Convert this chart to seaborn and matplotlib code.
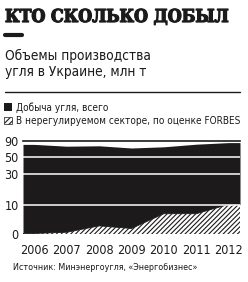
import numpy as np
import pandas as pd
import seaborn as sns
import matplotlib
matplotlib.use('Agg')
import matplotlib.pyplot as plt
import matplotlib.patheffects as pe
from matplotlib.patches import Patch
from matplotlib.lines import Line2D

# data
years = [2006, 2007, 2008, 2009, 2010, 2011, 2012]
total = [81.5, 77.0, 78.0, 72.5, 75.5, 82.0, 86.0]      # добыча угля, всего
unreg = [0.2, 0.6, 2.8, 1.9, 7.0, 7.0, 10.4]           # нерегулируемый сектор
yticks = [0, 10, 30, 50, 90]
ypix = [0, 29, 60, 77, 93]   # the chart uses a broken (piecewise) y scale

title = 'КТО СКОЛЬКО ДОБЫЛ'
subtitle = 'Объемы производства\nугля в Украине, млн т'
lab_total = 'Добыча угля, всего'
lab_unreg = 'В нерегулируемом секторе, по оценке FORBES'
source = 'Источник: Минэнергоугля, «Энергобизнес»'

sns.set_style('white')
plt.rcParams['font.family'] = ['DejaVu Sans']
plt.rcParams['font.stretch'] = 'condensed'
plt.rcParams['hatch.linewidth'] = 0.8
ink = '#1c1a1b'

def fwd(v):
    return np.interp(v, yticks, ypix)

def inv(v):
    return np.interp(v, ypix, yticks)

df = pd.DataFrame({'year': years, 'total': total, 'unreg': unreg})
# area runs a bit past the first and last year, like the original
x0, x1 = years[0] - 0.35, years[-1] + 0.35
xs = np.r_[x0, df['year'], x1]
tot = np.pad(df['total'].values, 1, mode='edge')
unr = np.pad(df['unreg'].values, 1, mode='edge')

fig = plt.figure(figsize=(2.48, 2.82), dpi=100)
ax = fig.add_axes([23/248, 1-234/282, 217/248, 93/282])
ax.set_yscale('function', functions=(fwd, inv))

ax.fill_between(xs, unr, tot, color=ink, lw=0)
ax.fill_between(xs, 0, unr, facecolor='white', edgecolor=ink, hatch='///////', lw=0)
sns.lineplot(x=xs, y=unr, ax=ax, color=ink, lw=0.6)

for t in yticks[1:-1]:
    ax.axhline(t, color='white', lw=1.1)

ax.set_xlim(x0, x1)
ax.set_ylim(0, 90)
ax.set_yticks(yticks)
ax.set_yticklabels([str(t) for t in yticks])
ax.set_xticks(years)
ax.set_xticklabels([str(y) for y in years])
ax.tick_params(length=0, labelsize=9, colors=ink)
ax.tick_params(axis='y', pad=3)
ax.tick_params(axis='x', pad=7)
ax.set_xlabel('')
ax.set_ylabel('')
for s in ['left', 'right', 'bottom']:
    ax.spines[s].set_visible(False)
ax.spines['top'].set_color(ink)
ax.spines['top'].set_linewidth(1.2)

# header
fig.text(5/248, 1-22/282, title, family='DejaVu Serif', weight='bold',
         stretch='condensed', fontsize=12.8, color=ink, va='baseline',
         path_effects=[pe.withStroke(linewidth=0.9, foreground=ink)])
fig.add_artist(Line2D([5/248, 22/248], [1-35/282]*2, color=ink, lw=3))
fig.text(5/248, 1-76/282, subtitle, fontsize=9.8, color=ink, va='baseline',
         linespacing=1.15)
fig.add_artist(Line2D([5/248, 240/248], [1-92/282]*2, color=ink, lw=1))

handles = [Patch(facecolor=ink, edgecolor=ink, lw=0),
           Patch(facecolor='white', edgecolor=ink, hatch='//////', lw=0.5)]
fig.legend(handles, [lab_total, lab_unreg], loc='upper left',
           bbox_to_anchor=(4/248, 1-102/282), frameon=False, fontsize=7.2,
           handlelength=0.75, handleheight=0.75, handletextpad=0.4,
           labelspacing=0.35, borderaxespad=0, borderpad=0, labelcolor=ink)

fig.text(13/248, 1-270/282, source, fontsize=6.4, color=ink, va='baseline')

fig.savefig('out.png', dpi=100)
